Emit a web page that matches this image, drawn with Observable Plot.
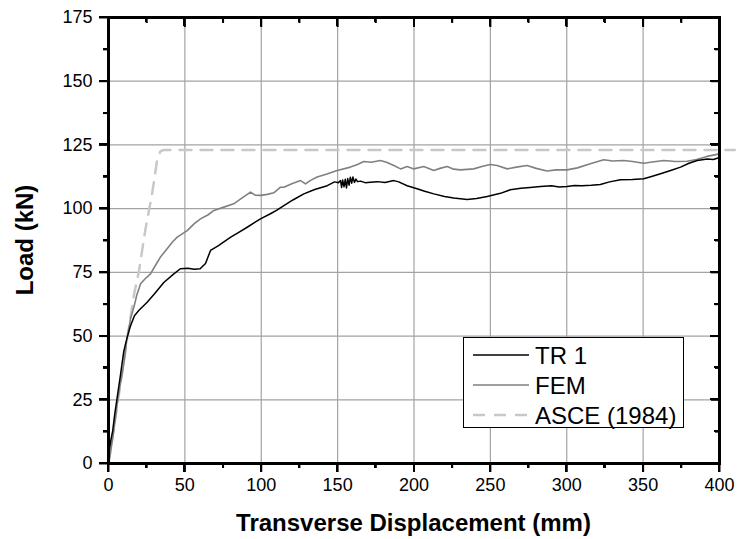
<!DOCTYPE html>
<html><head><meta charset="utf-8">
<script src="https://cdn.jsdelivr.net/npm/d3@7"></script>
<script src="https://cdn.jsdelivr.net/npm/@observablehq/plot@0.6"></script>
<style>
body{margin:0;background:#fff;}
#wrap{width:737px;height:539px;position:relative;}
.tk{position:absolute;background:#000;z-index:3;}
</style></head><body><div id="wrap"></div>
<script>
// ---- data ----
const xTitle = "Transverse Displacement (mm)";
const yTitle = "Load (kN)";
const seriesNames = ["TR 1", "FEM", "ASCE (1984)"];
const xMajorTicks = [0, 50, 100, 150, 200, 250, 300, 350, 400];
const xMinorTicks = [25, 75, 125, 175, 225, 275, 325, 375];
const yMajorTicks = [0, 25, 50, 75, 100, 125, 150, 175];
const yMinorTicks = [12.5, 37.5, 62.5, 87.5, 112.5, 137.5, 162.5];

const tr1X = [0,0.5,1.5,2.8,4,5.7,7.9,10,12,14.4,17,19.8,25.3,30,36.2,42,47,52,56,60,63.5,66.8,72,80,85,90.8,99.5,106,110,114.8,121,127.9,135,143.2,148,150.5,151.9,152.6,153.3,154.2,155,155.8,156.6,157.5,158.3,159.2,160,161,162,163,165,168,171.5,176,181,186.8,190,195.5,202,207,213,220,226,234.8,241,247.9,256.6,263,270,276,282.8,290,295,300.2,305,310,316,322,328,335.2,343,350.4,355,361.4,368,374.5,380,385.4,392,396,399.5];
const tr1Y = [0,5,9,13,19,26,35,44,49,54,58,60,63.3,66.5,71,74,76.4,76.6,76.2,76.4,78.5,83.6,85.5,88.8,90.6,92.7,96,98,99.3,101.2,103.5,105.8,107.5,109,110.5,110.2,111,108.3,111.2,108.6,111.5,108.1,111.8,109.2,112.3,110,112.4,110.3,111.6,110.6,110.8,110.2,110.4,110.6,110.3,111,110.5,109,107.8,106.8,105.8,104.8,104.2,103.6,104,104.8,106,107.4,108,108.3,108.7,109,108.5,108.7,109.1,109,109.2,109.5,110.5,111.3,111.4,111.7,112.5,113.7,115,116.3,117.8,118.9,119.5,119.3,120];

const femX = [0,1.5,3.5,6.3,10,12.2,13.3,14.5,16.6,18.5,21,24,27.5,30,34,38,42,45,51.5,56,60.2,65,69,75,82,87,93,96,99.5,104,108.2,112.6,114.8,120,125.7,129,132,136.6,143,149.7,158.4,163,167.1,172,178,182,186.8,191.2,195.5,199.9,206.4,213,217,221.7,226,230.4,239.1,245,250,254.4,261,267,274,280,287.1,293,300.2,307,315.4,324.2,330,337.3,343,350.4,356,363.5,371,378.8,385,391.8,400];
const femY = [0,5,13,26,39,49.5,53,57,61.3,66,70.5,72.5,74.4,77,81,84,87,88.8,91.4,94,96,97.5,99.3,100.5,101.9,104,106.5,105.3,105.2,105.6,106.2,108.4,108.4,109.8,111,109.7,111,112.4,113.6,115,116.3,117.3,118.5,118.2,118.9,118.2,116.9,115.6,116.5,115.6,116.5,115,115.8,116.5,115.5,115.2,115.6,116.6,117.3,116.9,115.6,116.3,116.9,115.8,114.8,115.2,115.2,116,117.6,119.2,118.7,118.9,118.5,117.8,118.3,118.9,118.5,118.6,119.3,120.5,121.5];

const asceX = [0,16.6,19.8,24.2,28.6,31.8,34,36,410];
const asceY = [0,66,75,92,106,119,122.5,123,123];

// ---- build table ----
const toRows = (xs, ys, s) => xs.map((x, i) => ({x, y: ys[i], s}));
const tr1 = toRows(tr1X, tr1Y, seriesNames[0]);
const fem = toRows(femX, femY, seriesNames[1]);
const asce = toRows(asceX, asceY, seriesNames[2]);

const W = 737, H = 539;
const font = "'Liberation Sans', Arial, sans-serif";
const gridColor = "#a3a3a3";
const colTR = "#000000", colFEM = "#808080", colASCE = "#c8c8c8";

const chart = Plot.plot({
  width: W, height: H,
  marginLeft: 108, marginRight: 18, marginTop: 17, marginBottom: 76,
  style: {fontFamily: font, fontSize: "18px", background: "#fff", color: "#000", overflow: "visible"},
  x: {domain: [0, 400]},
  y: {domain: [0, 175]},
  marks: [
    Plot.gridX(xMajorTicks, {stroke: gridColor, strokeOpacity: 1, strokeWidth: 1.2}),
    Plot.gridY(yMajorTicks, {stroke: gridColor, strokeOpacity: 1, strokeWidth: 1.2}),
    Plot.line(asce, {x: "x", y: "y", stroke: colASCE, strokeWidth: 2.5, strokeDasharray: "12,9"}),
    Plot.line(fem, {x: "x", y: "y", stroke: colFEM, strokeWidth: 1.6}),
    Plot.line(tr1, {x: "x", y: "y", stroke: colTR, strokeWidth: 1.5}),
    Plot.axisX({anchor: "bottom", ticks: xMajorTicks, tickSize: 9, tickPadding: 6, strokeWidth: 2, label: null, fontSize: 18}),
    Plot.axisX({anchor: "bottom", ticks: xMinorTicks, tickSize: 5, strokeWidth: 2, fill: "none", label: null}),
    Plot.axisX({anchor: "top", ticks: xMajorTicks, tickSize: -9, strokeWidth: 2, fill: "none", label: null}),
    Plot.axisX({anchor: "top", ticks: xMinorTicks, tickSize: -5, strokeWidth: 2, fill: "none", label: null}),
    Plot.axisY({anchor: "left", ticks: yMajorTicks, tickSize: 9, tickPadding: 7, strokeWidth: 2, label: null, fontSize: 18}),
    Plot.axisY({anchor: "left", ticks: yMinorTicks, tickSize: 5, strokeWidth: 2, fill: "none", label: null}),
    Plot.axisY({anchor: "right", ticks: yMajorTicks, tickSize: -9, strokeWidth: 2, fill: "none", label: null}),
    Plot.axisY({anchor: "right", ticks: yMinorTicks, tickSize: -5, strokeWidth: 2, fill: "none", label: null}),
    Plot.frame({stroke: "#000", strokeWidth: 3})
  ]
});
const wrap = document.getElementById("wrap");
wrap.appendChild(chart);

// ---- tick marks re-drawn from the plot's own scales as HTML boxes ----
const sx = chart.scale("x"), sy = chart.scale("y");
const [x0, x1] = sx.domain.map(v => sx.apply(v));
const [y0, y1] = sy.domain.map(v => sy.apply(v)); // y0 bottom, y1 top
const box = (l, t, w, h) => {
  const d = document.createElement("div");
  d.className = "tk";
  d.style.left = l + "px"; d.style.top = t + "px"; d.style.width = w + "px"; d.style.height = h + "px";
  wrap.appendChild(d);
};
const addX = (vals, len) => vals.forEach(v => {
  const px = sx.apply(v);
  box(px - 1, y0, 2, len);
  box(px - 1, y1, 2, len);
});
const addY = (vals, len) => vals.forEach(v => {
  const py = sy.apply(v);
  box(x0 - len, py - 1, len, 2);
  box(x1 - len, py - 1, len, 2);
});
addX(xMajorTicks, 9); addX(xMinorTicks, 5);
addY(yMajorTicks, 9); addY(yMinorTicks, 5);

// ---- titles and legend drawn into the same svg ----
const ov = d3.select(chart).append("g").attr("font-family", font);
ov.append("text").attr("x", (x0 + x1) / 2).attr("y", 531).attr("text-anchor", "middle")
  .attr("font-size", 24).attr("font-weight", "bold").attr("fill", "#000").text(xTitle);
ov.append("text").attr("transform", `translate(33,${(y0 + y1) / 2}) rotate(-90)`).attr("text-anchor", "middle")
  .attr("font-size", 24).attr("font-weight", "bold").attr("fill", "#000").text(yTitle);

const lg = ov.append("g");
lg.append("rect").attr("x", 463.5).attr("y", 337.5).attr("width", 220).attr("height", 90)
  .attr("fill", "#fff").attr("stroke", "#000").attr("stroke-width", 1);
const items = [
  {name: seriesNames[0], stroke: colTR, w: 1.5, dash: null},
  {name: seriesNames[1], stroke: colFEM, w: 1.5, dash: null},
  {name: seriesNames[2], stroke: colASCE, w: 2.5, dash: "12,9"}
];
items.forEach((it, i) => {
  const cy = 355 + i * 30;
  const l = lg.append("line").attr("x1", 473).attr("x2", 529).attr("y1", cy).attr("y2", cy)
    .attr("stroke", it.stroke).attr("stroke-width", it.w);
  if (it.dash) l.attr("stroke-dasharray", it.dash);
  lg.append("text").attr("x", 535).attr("y", cy).attr("dy", "0.36em")
    .attr("text-anchor", "start").attr("font-size", 24).attr("fill", "#000").text(it.name);
});
</script>
</body></html>
